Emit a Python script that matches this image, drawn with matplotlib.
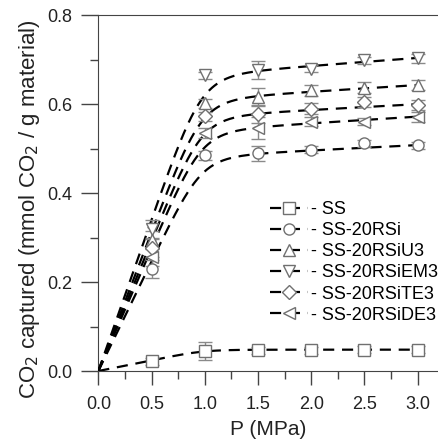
import numpy as np
from matplotlib import pyplot as plt
from matplotlib.lines import Line2D

# cisnienie (MPa) i pomiary
P = [0.5, 1.0, 1.5, 2.0, 2.5, 3.0]

names = ["SS", "SS-20RSi", "SS-20RSiU3", "SS-20RSiEM3", "SS-20RSiTE3", "SS-20RSiDE3"]
markers = ["s", "o", "^", "v", "D", "<"]

ss = [0.022, 0.045, 0.047, 0.047, 0.048, 0.048]
rsi = [0.229, 0.485, 0.490, 0.498, 0.512, 0.508]
u3 = [0.294, 0.602, 0.616, 0.631, 0.637, 0.643]
em3 = [0.319, 0.665, 0.676, 0.680, 0.699, 0.703]
te3 = [0.276, 0.573, 0.578, 0.590, 0.605, 0.598]
de3 = [0.256, 0.535, 0.546, 0.560, 0.560, 0.571]

ss_err = [0.008, 0.020, 0.008, 0.008, 0.008, 0.008]
rsi_err = [0.020, 0.010, 0.017, 0.008, 0.008, 0.008]
u3_err = [0.020, 0.010, 0.020, 0.012, 0.012, 0.012]
em3_err = [0.020, 0.008, 0.020, 0.008, 0.008, 0.010]
te3_err = [0.020, 0.010, 0.020, 0.012, 0.012, 0.012]
de3_err = [0.020, 0.012, 0.025, 0.010, 0.008, 0.012]

# parametry dopasowania (Toth + czlon liniowy): qm, b, k
fit_qm = [0.048, 0.472, 0.598, 0.650, 0.561, 0.527]
fit_b = [1.0, 1.02, 1.02, 1.02, 1.02, 1.02]
fit_k = [0.0, 0.012, 0.015, 0.018, 0.013, 0.015]
fit_t = 8

values = [ss, rsi, u3, em3, te3, de3]
errors = [ss_err, rsi_err, u3_err, em3_err, te3_err, de3_err]

def toth(p, qm, b, k):
    bp = b * p
    return qm * bp / (1 + bp ** fit_t) ** (1.0 / fit_t) + k * p

plt.rcParams['font.family'] = ['Liberation Sans', 'DejaVu Sans']
fig = plt.figure(figsize=(4.39, 4.47), dpi=100)
ax = fig.add_axes([0.224, 0.170, 0.776, 0.796])

edge = "#707070"
tc = "#444444"
pp = np.linspace(0, 3.0, 400)
handles = []
for i in range(len(names)):
    ms = 7 if markers[i] == "D" else 8
    ax.plot(pp, toth(pp, fit_qm[i], fit_b[i], fit_k[i]), color="black",
            lw=1.6, dashes=(5, 3.5), zorder=3)
    ax.errorbar(P, values[i], yerr=errors[i], fmt=markers[i], ms=ms,
                mfc="white", mec=edge, mew=1.0, ecolor="#8a8a8a", elinewidth=1.0,
                capsize=5, capthick=1.0, zorder=4)
    handles.append(Line2D([], [], color="black", lw=1.6, dashes=(5, 3.5),
                          marker=markers[i], ms=ms,
                          mfc="white", mec=edge, mew=1.0))

ax.set_xlim(0, 3.2)
ax.set_ylim(0, 0.8)
ax.set_xticks([0.0, 0.5, 1.0, 1.5, 2.0, 2.5, 3.0])
ax.set_xticks(np.arange(0.25, 3.2, 0.5), minor=True)
ax.set_yticks([0.0, 0.2, 0.4, 0.6, 0.8])
ax.set_yticks([0.1, 0.3, 0.5, 0.7], minor=True)
ax.xaxis.set_major_formatter(plt.FormatStrFormatter('%.1f'))
ax.yaxis.set_major_formatter(plt.FormatStrFormatter('%.1f'))
ax.tick_params(axis='x', which='major', direction='out', length=10, width=1, labelsize=13, pad=8, color=tc)
ax.tick_params(axis='x', which='minor', direction='out', length=6, width=1, color=tc)
ax.tick_params(axis='y', which='major', direction='out', length=12, width=1, labelsize=13, pad=7, color=tc)
ax.tick_params(axis='y', which='minor', direction='out', length=5.5, width=1, color=tc)
ax.tick_params(labelcolor="#222222")
ax.spines['right'].set_visible(False)
for s in ['left', 'bottom', 'top']:
    ax.spines[s].set_color(tc)

ax.set_xlabel("P (MPa)", fontsize=15, labelpad=5, color="#222222")
ax.set_ylabel("CO$_2$ captured (mmol CO$_2$ / g material)", fontsize=16, color="#222222")
ax.yaxis.set_label_coords(-0.165, 0.455)

ax.legend(handles, ["- " + n for n in names], loc="upper left", bbox_to_anchor=(0.505, 0.478),
          frameon=False, fontsize=13, handlelength=2.1, handletextpad=0.15,
          labelspacing=0.23, borderpad=0.0, borderaxespad=0.0)

fig.savefig("out.png", dpi=100)
